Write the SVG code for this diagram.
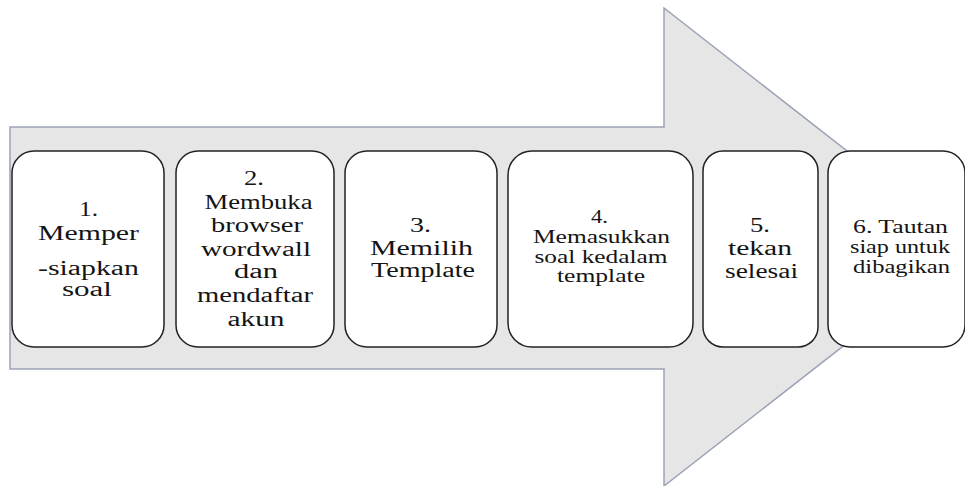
<svg xmlns="http://www.w3.org/2000/svg" width="965" height="486" viewBox="0 0 965 486">
<style>
.arrow{fill:#e6e6e6;stroke:#9aa3b5;stroke-width:1.5;stroke-linejoin:miter}
.box{fill:#ffffff;stroke:#222222;stroke-width:1.5}
text{font-family:'Liberation Serif','DejaVu Serif',serif;font-size:20px;fill:#141414;text-anchor:middle}
text.s{font-size:18px}
</style>
<rect width="965" height="486" fill="#ffffff"/>
<g id="connectors">
<polygon class="arrow" points="10,127 664,127 664,8 970,247 664,486 664,369 10,369"/>
</g>
<g id="node1">
<rect class="box" x="12" y="151" width="152" height="196" rx="22"/>
<text x="88.5" y="216" textLength="19" lengthAdjust="spacingAndGlyphs">1.</text>
<text x="88.5" y="240" textLength="101" lengthAdjust="spacingAndGlyphs">Memper</text>
<text x="88.5" y="275" textLength="101" lengthAdjust="spacingAndGlyphs">-siapkan</text>
<text x="87" y="296" textLength="50" lengthAdjust="spacingAndGlyphs">soal</text>
</g>
<g id="node2">
<rect class="box" x="176" y="151" width="158" height="196" rx="22"/>
<text x="254" y="185" textLength="20" lengthAdjust="spacingAndGlyphs">2.</text>
<text x="258.5" y="209" textLength="108" lengthAdjust="spacingAndGlyphs">Membuka</text>
<text x="257" y="232" textLength="92" lengthAdjust="spacingAndGlyphs">browser</text>
<text x="256" y="256" textLength="110" lengthAdjust="spacingAndGlyphs">wordwall</text>
<text x="256" y="278" textLength="44" lengthAdjust="spacingAndGlyphs">dan</text>
<text x="255" y="302" textLength="116" lengthAdjust="spacingAndGlyphs">mendaftar</text>
<text x="256" y="326" textLength="57" lengthAdjust="spacingAndGlyphs">akun</text>
</g>
<g id="node3">
<rect class="box" x="345" y="151" width="152" height="196" rx="22"/>
<text x="420.5" y="232" textLength="21" lengthAdjust="spacingAndGlyphs">3.</text>
<text x="421.5" y="255" textLength="103" lengthAdjust="spacingAndGlyphs">Memilih</text>
<text x="423" y="277" textLength="104" lengthAdjust="spacingAndGlyphs">Template</text>
</g>
<g id="node4">
<rect class="box" x="508" y="151" width="185" height="196" rx="24"/>
<text class="s" x="599.5" y="223" textLength="17" lengthAdjust="spacingAndGlyphs">4.</text>
<text class="s" x="601.5" y="243" textLength="137" lengthAdjust="spacingAndGlyphs">Memasukkan</text>
<text class="s" x="601" y="263" textLength="133" lengthAdjust="spacingAndGlyphs">soal kedalam</text>
<text class="s" x="601" y="282" textLength="88" lengthAdjust="spacingAndGlyphs">template</text>
</g>
<g id="node5">
<rect class="box" x="703" y="151" width="115" height="196" rx="20"/>
<text x="760" y="232" textLength="20" lengthAdjust="spacingAndGlyphs">5.</text>
<text x="760" y="255" textLength="64" lengthAdjust="spacingAndGlyphs">tekan</text>
<text x="761.5" y="278" textLength="73" lengthAdjust="spacingAndGlyphs">selesai</text>
</g>
<g id="node6">
<rect class="box" x="828" y="151" width="137" height="196" rx="22"/>
<text class="s" x="900.5" y="233" textLength="95" lengthAdjust="spacingAndGlyphs">6. Tautan</text>
<text class="s" x="900" y="253" textLength="100" lengthAdjust="spacingAndGlyphs">siap untuk</text>
<text class="s" x="901.5" y="273" textLength="97" lengthAdjust="spacingAndGlyphs">dibagikan</text>
</g>
</svg>
